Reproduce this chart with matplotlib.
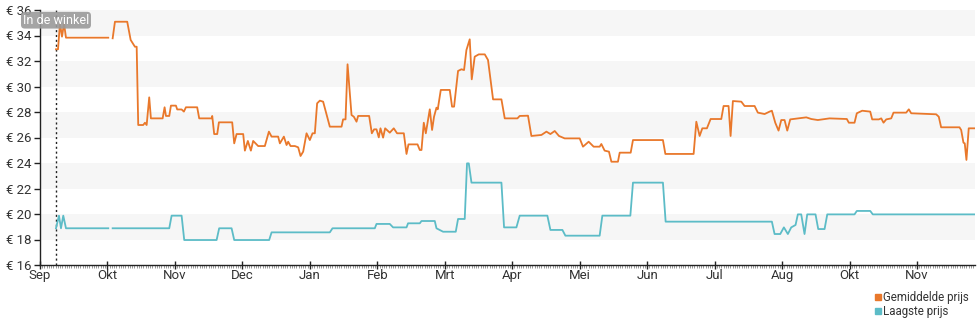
import numpy as np
import matplotlib
matplotlib.use("Agg")
import matplotlib.pyplot as plt
from matplotlib.lines import Line2D

plt.rcParams['font.family'] = ['Roboto', 'DejaVu Sans']

# x = months since start of the axis (tick 0 = Sep), y = price in euro
month_labels = ["Sep", "Okt", "Nov", "Dec", "Jan", "Feb", "Mrt", "Apr",
                "Mei", "Jun", "Jul", "Aug", "Okt", "Nov"]

avg_x = [0.237, 0.267, 0.296, 0.326, 0.356, 0.385, 1.012, 1.04, 1.077, 1.111,
         1.293, 1.344, 1.407, 1.433, 1.456, 1.530, 1.556, 1.581, 1.619, 1.644,
         1.818, 1.847, 1.867, 1.916, 1.941, 2.015, 2.034, 2.099, 2.133, 2.163,
         2.330, 2.360, 2.544, 2.553, 2.582, 2.627, 2.652, 2.849, 2.879, 2.914,
         3.012, 3.037, 3.081, 3.126, 3.160, 3.234, 3.333, 3.393, 3.433, 3.530,
         3.556, 3.615, 3.655, 3.679, 3.714, 3.778, 3.827, 3.862, 3.901, 3.951,
         4.000, 4.040, 4.074, 4.108, 4.148, 4.197, 4.296, 4.470, 4.493, 4.529,
         4.559, 4.618, 4.652, 4.692, 4.716, 4.879, 4.919, 4.953, 4.988, 5.022,
         5.047, 5.086, 5.116, 5.185, 5.244, 5.293, 5.393, 5.433, 5.462, 5.596,
         5.630, 5.655, 5.689, 5.719, 5.778, 5.812, 5.841, 5.877, 5.896, 5.941,
         6.074, 6.108, 6.138, 6.197, 6.247, 6.286, 6.321, 6.370, 6.400, 6.444,
         6.504, 6.593, 6.641, 6.692, 6.716, 6.840, 6.889, 7.077, 7.111, 7.234,
         7.284, 7.433, 7.507, 7.566, 7.630, 7.693, 7.778, 8.000, 8.049, 8.133,
         8.207, 8.296, 8.321, 8.370, 8.434, 8.470, 8.567, 8.593, 8.756, 8.790,
         9.234, 9.270, 9.689, 9.729, 9.778, 9.818, 9.886, 9.941, 10.099, 10.133,
         10.207, 10.237, 10.271, 10.396, 10.444, 10.593, 10.641, 10.741, 10.815, 10.849,
         10.899, 10.948, 10.988, 11.037, 11.077, 11.121, 11.234, 11.359, 11.433, 11.530,
         11.704, 11.960, 11.990, 12.074, 12.108, 12.188, 12.307, 12.336, 12.434, 12.470,
         12.504, 12.544, 12.618, 12.652, 12.840, 12.879, 12.914, 13.284, 13.323, 13.358,
         13.630, 13.655, 13.689, 13.708, 13.733, 13.767, 13.867]
avg_y = [32.92, 32.92, 34.95, 33.91, 34.95, 33.83, 33.83, np.nan, 33.78, 35.08,
         35.08, 33.65, 33.12, 33.12, 26.98, 26.98, 27.16, 26.98, 29.15, 27.50,
         27.50, 28.37, 27.69, 27.69, 28.50, 28.50, 28.20, 28.20, 28.03, 28.37,
         28.37, 27.50, 27.50, 27.69, 26.27, 26.27, 27.19, 27.19, 25.54, 26.27,
         26.27, 24.97, 25.73, 24.97, 25.73, 25.33, 25.33, 26.46, 26.07, 26.07,
         25.54, 26.07, 25.41, 25.67, 25.33, 25.33, 25.23, 24.55, 24.89, 26.33,
         25.80, 26.33, 26.33, 28.68, 28.89, 28.81, 26.85, 26.85, 27.42, 27.42,
         31.74, 27.76, 27.63, 27.24, 27.69, 27.69, 26.33, 26.64, 26.64, 26.01,
         26.72, 25.99, 26.72, 26.38, 26.72, 26.33, 26.33, 24.71, 25.46, 25.46,
         25.02, 25.02, 27.16, 26.33, 28.21, 26.59, 27.63, 28.34, 28.21, 29.73,
         29.73, 28.42, 28.42, 31.22, 31.35, 31.29, 32.86, 33.70, 30.56, 32.34,
         32.52, 32.52, 32.08, 29.99, 28.99, 28.99, 27.50, 27.50, 27.69, 27.71,
         26.12, 26.20, 26.46, 26.27, 26.51, 26.12, 25.93, 25.93, 25.28, 25.67,
         25.28, 25.28, 25.49, 24.97, 24.89, 24.10, 24.10, 24.81, 24.81, 25.80,
         25.80, 24.71, 24.71, 27.24, 26.12, 26.72, 26.72, 27.45, 27.45, 28.47,
         28.47, 26.12, 28.86, 28.81, 28.47, 28.47, 27.95, 27.84, 28.03, 28.10,
         27.16, 26.54, 27.37, 27.37, 26.54, 27.42, 27.50, 27.58, 27.45, 27.37,
         27.50, 27.45, 27.16, 27.16, 27.90, 28.10, 28.03, 27.42, 27.42, 27.50,
         27.16, 27.42, 27.50, 27.95, 27.95, 28.21, 27.90, 27.82, 27.63, 26.80,
         26.80, 26.59, 25.59, 25.54, 24.24, 26.72, 26.72]

low_x = [0.237, 0.281, 0.311, 0.345, 0.385, 1.012, 1.04, 1.077, 1.916, 1.951,
         2.099, 2.138, 2.618, 2.656, 2.840, 2.879, 3.397, 3.433, 4.296, 4.336,
         4.963, 4.988, 5.185, 5.234, 5.433, 5.456, 5.630, 5.655, 5.852, 5.877,
         5.975, 6.163, 6.197, 6.296, 6.330, 6.356, 6.396, 6.840, 6.879, 7.062,
         7.111, 7.521, 7.566, 7.744, 7.788, 8.296, 8.336, 8.751, 8.790, 9.234,
         9.274, 10.849, 10.889, 10.973, 11.027, 11.086, 11.136, 11.200, 11.234, 11.284,
         11.333, 11.373, 11.496, 11.536, 11.630, 11.670, 12.074, 12.108, 12.307, 12.345,
         13.867]
low_y = [18.88, 19.87, 18.88, 19.87, 18.88, 18.88, np.nan, 18.88, 18.88, 19.87,
         19.87, 17.96, 17.96, 18.88, 18.88, 17.96, 17.96, 18.56, 18.56, 18.88,
         18.88, 19.22, 19.22, 18.95, 18.95, 19.27, 19.27, 19.45, 19.45, 18.88,
         18.61, 18.61, 19.61, 19.61, 23.97, 23.97, 22.46, 22.46, 18.95, 18.95,
         19.87, 19.87, 18.75, 18.75, 18.30, 18.30, 19.87, 19.87, 22.46, 22.46,
         19.40, 19.40, 18.43, 18.43, 18.95, 18.43, 18.95, 19.14, 19.97, 19.97,
         18.43, 19.97, 19.97, 18.82, 18.82, 19.97, 19.97, 20.24, 20.24, 19.97,
         19.97]

store_x = 0.237
y_ticks = list(range(16, 37, 2))

orange = "#e9782b"
teal = "#5cbcc7"
text_col = "#333333"

fig = plt.figure(figsize=(9.8, 3.25), dpi=100)
ax = fig.add_axes([40 / 980, 1 - 265 / 325, 935 / 980, 255 / 325])

# alternating bands
for lo in range(18, 36, 4):
    ax.axhspan(lo, lo + 2, color="#f6f6f6", lw=0, zorder=0)

ax.plot(avg_x, avg_y, color=orange, lw=1.3, zorder=3)
ax.plot(low_x, low_y, color=teal, lw=1.3, zorder=3)

ax.axvline(store_x, color="#222222", lw=1, ls=(0, (1.5, 2)), zorder=2)
ax.text(store_x, 35.2, "In de winkel", ha="center", va="center", color="white",
        fontsize=9, zorder=5,
        bbox=dict(boxstyle="round,pad=0.15,rounding_size=0.3", fc="#9a9a9a",
                  ec="none", alpha=0.9))

ax.set_xlim(0, 13.86)
ax.set_ylim(16, 36)
ax.set_yticks(y_ticks)
ax.set_yticklabels([f"€ {v}" for v in y_ticks])
ax.set_xticks(range(len(month_labels)))
ax.set_xticklabels(month_labels)
ax.set_xticks(np.arange(0, 13.86, 1 / 30), minor=True)

for s in ["top", "right"]:
    ax.spines[s].set_visible(False)
for s in ["left", "bottom"]:
    ax.spines[s].set_color("#222222")
    ax.spines[s].set_linewidth(1)

ax.tick_params(axis="y", length=4, width=1, colors="#222222", labelcolor=text_col,
               labelsize=9.5, pad=2)
ax.tick_params(axis="x", which="major", direction="inout", length=6, width=1,
               colors="#222222", labelcolor=text_col, labelsize=9.5, pad=0)
ax.tick_params(axis="x", which="minor", direction="out", length=2, width=0.6,
               colors="#888888")

handles = [Line2D([], [], marker="s", ls="none", color=orange, markersize=5),
           Line2D([], [], marker="s", ls="none", color=teal, markersize=5)]
fig.legend(handles, ["Gemiddelde prijs", "Laagste prijs"], loc="upper left",
           bbox_to_anchor=(0.886, 0.122), frameon=False, fontsize=8.3,
           handlelength=0.6, handletextpad=0.2, labelspacing=0.1,
           borderpad=0, labelcolor=text_col)

fig.savefig("out.png", dpi=100)
